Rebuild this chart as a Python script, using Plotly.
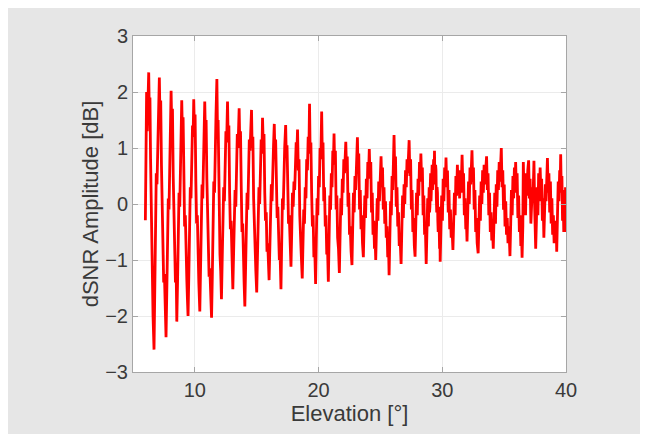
import plotly.graph_objects as go

# ---- data (elevation in degrees, dSNR in dB) ----
elev_a = [6.00, 6.05, 6.10, 6.15, 6.20, 6.27, 6.32, 6.37, 6.42, 6.47, 6.52, 6.57, 6.62, 6.70,
          6.76, 6.82, 6.88, 6.94, 7.00, 7.06, 7.13, 7.18, 7.24, 7.30, 7.36, 7.42, 7.48, 7.54, 7.60, 7.67,
          7.73, 7.79, 7.85, 7.91, 7.97, 8.03, 8.08, 8.13, 8.19, 8.25, 8.31, 8.37, 8.43, 8.49, 8.54,
          8.60, 8.66, 8.72, 8.78, 8.84, 8.89, 8.94, 8.99, 9.05, 9.11, 9.17, 9.23, 9.29, 9.35, 9.40, 9.45,
          9.51, 9.57, 9.63, 9.69, 9.75, 9.81, 9.86, 9.91, 9.96, 10.02, 10.08, 10.14, 10.20, 10.26, 10.32, 10.40,
          10.46, 10.52, 10.58, 10.64, 10.70, 10.75, 10.80, 10.85, 10.91, 10.97, 11.03, 11.09, 11.15, 11.21, 11.28, 11.35]
dsnr_a = [-0.29, 0.95, 2.00, 1.30, 1.95, 2.35, 1.60, 1.90, 0.80, 0.05, -1.00, -0.90, -2.00, -2.60,
          -1.50, -0.40, 0.55, 0.35, 1.10, 1.80, 2.26, 1.55, 1.85, 0.70, -0.20, -0.60, -1.40, -1.25, -2.10, -2.38,
          -1.60, -0.55, 0.10, -0.10, 0.90, 1.60, 2.02, 1.40, 1.70, 0.50, -0.30, -0.85, -1.40, -1.20, -2.10,
          -1.40, -0.50, 0.20, -0.05, 1.00, 1.55, 1.85, 1.30, 1.55, 0.60, -0.40, -0.20, -1.10, -1.35, -1.70, -2.00,
          -1.30, -0.45, 0.30, 0.10, 0.95, 1.40, 1.20, 1.87, 1.35, 1.60, 0.40, -0.35, -0.20, -1.10, -1.40, -1.92,
          -1.20, -0.30, 0.35, 0.10, 1.05, 1.45, 1.83, 1.25, 1.50, 0.45, -0.30, -0.55, -1.30, -1.15, -1.75, -2.03]

elev_b = [11.41, 11.47, 11.53, 11.59, 11.65, 11.71, 11.78, 11.83, 11.88, 11.93, 11.98, 12.03, 12.09, 12.15,
          12.21, 12.27, 12.33, 12.39, 12.45, 12.51, 12.57, 12.64, 12.69, 12.75, 12.81, 12.87, 12.93, 12.99, 13.07,
          13.13, 13.19, 13.25, 13.31, 13.37, 13.43, 13.49, 13.58, 13.63, 13.69, 13.75, 13.81, 13.87, 13.93, 13.98, 14.04,
          14.10, 14.16, 14.22, 14.28, 14.34, 14.40, 14.46, 14.52, 14.58, 14.63, 14.69, 14.75, 14.81, 14.87, 14.93, 15.00,
          15.06, 15.12, 15.18, 15.24, 15.30, 15.36, 15.42, 15.47, 15.53, 15.59, 15.65, 15.71, 15.77, 15.83, 15.89, 15.95, 16.00,
          16.06, 16.12, 16.18, 16.24, 16.30, 16.36, 16.42, 16.47, 16.53, 16.59, 16.65, 16.71, 16.77, 16.83, 16.89, 16.96]
dsnr_b = [-1.30, -0.35, 0.40, 0.20, 1.20, 1.60, 2.23, 1.30, 1.50, 0.20, -0.40, -0.90, -1.20, -1.70,
          -1.00, -0.25, 0.30, 0.05, 0.90, 1.30, 1.10, 1.83, 1.20, 1.40, 0.20, -0.45, -0.30, -1.10, -1.52,
          -0.90, -0.20, 0.25, -0.05, 0.80, 1.25, 1.00, 1.71, 1.10, 1.30, 0.30, -0.50, -0.35, -1.20, -1.40, -1.83,
          -1.10, -0.30, 0.20, -0.10, 0.70, 1.15, 0.95, 1.40, 1.68, 1.00, 1.20, 0.10, -0.50, -0.70, -1.20, -1.58,
          -0.95, -0.20, 0.30, 0.00, 0.75, 1.15, 0.90, 1.54, 1.05, 1.25, 0.20, -0.30, -0.15, -0.85, -0.70, -1.10, -1.36,
          -0.80, -0.15, 0.35, 0.05, 0.80, 1.05, 1.43, 0.90, 1.15, 0.25, -0.25, -0.05, -0.80, -1.00, -0.90, -1.52]

elev_c = [17.02, 17.08, 17.14, 17.20, 17.26, 17.34, 17.39, 17.45, 17.51, 17.57, 17.63, 17.70, 17.77,
          17.83, 17.89, 17.95, 18.01, 18.07, 18.13, 18.19, 18.25, 18.30, 18.36, 18.42, 18.48, 18.54, 18.60, 18.68,
          18.74, 18.80, 18.86, 18.92, 18.98, 19.04, 19.10, 19.16, 19.22, 19.27, 19.32, 19.38, 19.44, 19.50, 19.56, 19.62, 19.69, 19.76,
          19.82, 19.88, 19.94, 20.00, 20.06, 20.12, 20.18, 20.25, 20.30, 20.36, 20.42, 20.48, 20.54, 20.60, 20.66, 20.72, 20.79,
          20.85, 20.91, 20.97, 21.03, 21.09, 21.15, 21.20, 21.25, 21.30, 21.36, 21.42, 21.48, 21.54, 21.61, 21.68,
          21.74, 21.80, 21.86, 21.92, 21.98, 22.04, 22.10, 22.15, 22.20, 22.26, 22.32, 22.38, 22.44, 22.50, 22.56, 22.63, 22.70]
dsnr_c = [-0.70, 0.10, -0.10, 0.75, 1.00, 1.41, 0.85, 1.05, 0.10, -0.35, -0.20, -0.85, -1.12,
          -0.50, 0.20, -0.05, 0.40, 0.25, 0.90, 1.10, 0.95, 1.33, 0.60, 0.80, -0.20, -0.70, -0.90, -1.33,
          -0.70, -0.10, -0.35, 0.30, 0.10, 0.80, 0.60, 1.20, 1.00, 1.79, 0.90, 1.10, 0.20, -0.40, -0.20, -0.95, -0.80, -1.43,
          -0.60, 0.10, -0.20, 0.50, 0.30, 1.00, 0.80, 1.65, 0.90, 1.10, 0.05, 0.30, -0.40, -0.20, -0.90, -0.75, -1.39,
          -0.55, 0.15, -0.10, 0.55, 0.30, 0.95, 0.75, 1.26, 0.70, 0.95, -0.10, 0.15, -0.60, -0.80, -1.23,
          -0.50, 0.10, -0.20, 0.45, 0.20, 0.80, 0.55, 0.90, 1.11, 0.60, 0.85, -0.05, 0.20, -0.55, -0.40, -0.85, -1.09]

elev_d = [22.76, 22.82, 22.88, 22.94, 23.00, 23.06, 23.14, 23.19, 23.25, 23.31, 23.37, 23.43, 23.49, 23.55, 23.62,
          23.68, 23.74, 23.80, 23.86, 23.92, 23.98, 24.04, 24.10, 24.16, 24.22, 24.28, 24.34, 24.40, 24.46, 24.52, 24.57, 24.62,
          24.68, 24.74, 24.80, 24.86, 24.92, 24.98, 25.05, 25.11, 25.17, 25.23, 25.29, 25.35, 25.41, 25.47, 25.53, 25.59, 25.65, 25.70,
          25.76, 25.82, 25.88, 25.94, 26.00, 26.05, 26.10, 26.16, 26.22, 26.28, 26.34, 26.40, 26.46, 26.52, 26.58, 26.67,
          26.73, 26.79, 26.85, 26.91, 26.97, 27.03, 27.09, 27.15, 27.21, 27.27, 27.32, 27.38, 27.44, 27.50, 27.56, 27.62, 27.68, 27.74, 27.80,
          27.86, 27.92, 27.98, 28.04, 28.10, 28.16, 28.22, 28.27, 28.33, 28.39, 28.45, 28.51, 28.57, 28.63, 28.70]
dsnr_d = [-0.40, 0.20, -0.15, 0.50, 0.25, 0.85, 1.19, 0.60, 0.90, -0.10, 0.25, -0.45, -0.20, -0.70, -0.95,
          -0.35, 0.15, -0.25, 0.45, 0.10, 0.75, 0.50, 0.98, 0.45, 0.75, -0.15, 0.20, -0.55, -0.30, -0.80, -0.60, -1.00,
          -0.45, 0.10, -0.30, 0.40, 0.05, 0.70, 0.85, 0.30, 0.65, -0.10, 0.30, -0.35, 0.05, -0.60, -0.40, -0.95, -0.70, -1.27,
          -0.50, 0.05, -0.20, 0.50, 0.25, 0.85, 1.23, 0.55, 0.85, -0.05, 0.30, -0.40, -0.15, -0.75, -0.55, -1.07,
          -0.40, 0.15, -0.25, 0.35, 0.00, 0.60, 0.30, 0.80, 0.55, 0.95, 1.14, 0.50, 0.80, -0.10, 0.25, -0.50, -0.25, -0.75, -0.94,
          -0.35, 0.20, -0.20, 0.45, 0.15, 0.75, 0.45, 0.90, 0.40, 0.65, -0.20, 0.15, -0.55, -0.40, -1.07]

elev_e = [28.76, 28.79, 28.82, 28.85, 28.88, 28.91, 28.94, 28.97, 29.00, 29.03, 29.06, 29.09, 29.12, 29.15, 29.18, 29.21, 29.24, 29.27, 29.30, 29.34, 29.37,
          29.40, 29.43, 29.46, 29.49, 29.52, 29.55, 29.58, 29.61, 29.64, 29.67, 29.70, 29.73, 29.76, 29.78, 29.81, 29.83,
          29.89, 29.95, 30.01, 30.07, 30.13, 30.19, 30.25, 30.30, 30.36, 30.42, 30.48, 30.54, 30.60, 30.66, 30.72, 30.78, 30.86,
          30.92, 30.98, 31.04, 31.10, 31.16, 31.22, 31.28, 31.34, 31.40, 31.46, 31.52, 31.60, 31.66, 31.72, 31.78, 31.84, 31.90, 31.95, 32.00,
          32.06, 32.12, 32.18, 32.24, 32.30, 32.35, 32.40, 32.46, 32.52, 32.58, 32.64, 32.70, 32.76, 32.82, 32.90,
          32.96, 33.02, 33.08, 33.14, 33.20, 33.26, 33.32, 33.38, 33.44, 33.50, 33.58, 33.64, 33.70, 33.76, 33.82, 33.88, 33.94, 34.00, 34.06, 34.12]
dsnr_e = [-0.45, -0.10, 0.10, -0.25, -0.40, 0.05, 0.30, -0.15, -0.05, 0.35, 0.55, 0.05, 0.20, 0.50, 0.70, 0.25, 0.40, 0.65, 0.80, 0.40, 0.95,
          0.45, 0.35, 0.70, 0.60, 0.10, -0.15, 0.30, 0.20, -0.30, -0.50, -0.05, -0.20, -0.55, -0.80, -0.45, -1.03,
          -0.40, 0.15, -0.30, 0.45, 0.05, 0.65, 0.35, 0.83, 0.30, 0.60, -0.15, 0.25, -0.45, -0.10, -0.60, -0.40, -0.82,
          -0.30, 0.20, -0.20, 0.50, 0.15, 0.70, 0.30, 0.60, 0.10, 0.45, 0.20, 0.88, 0.35, 0.55, -0.20, 0.10, -0.45, -0.30, -0.67,
          -0.10, 0.40, 0.00, 0.65, 0.35, 0.80, 0.96, 0.40, 0.65, -0.10, 0.25, -0.50, -0.25, -0.70, -0.88,
          -0.35, 0.15, -0.30, 0.40, 0.00, 0.60, 0.20, 0.70, 0.35, 0.55, 0.85, 0.25, 0.55, -0.20, 0.20, -0.50, -0.15, -0.65, -0.45, -0.80]

elev_f = [34.18, 34.24, 34.30, 34.36, 34.42, 34.48, 34.54, 34.60, 34.66, 34.72, 34.77, 34.83, 34.89, 34.95, 35.01, 35.07, 35.13, 35.19, 35.25, 35.31, 35.37, 35.42, 35.47,
          35.53, 35.59, 35.65, 35.71, 35.77, 35.83, 35.88, 35.93, 35.99, 36.05, 36.11, 36.17, 36.23, 36.29, 36.35, 36.40, 36.45,
          36.51, 36.55, 36.61, 36.67, 36.73, 36.79, 36.85, 36.91, 36.98, 37.04, 37.10, 37.16, 37.22, 37.28, 37.34, 37.41, 37.46, 37.51, 37.55,
          37.61, 37.67, 37.73, 37.79, 37.85, 37.91, 37.97, 38.03, 38.09, 38.15, 38.21, 38.27, 38.33, 38.39, 38.45, 38.50, 38.56, 38.62, 38.68, 38.74,
          38.80, 38.86, 38.92, 38.98, 39.04, 39.10, 39.16, 39.21, 39.25,
          39.31, 39.37, 39.43, 39.49, 39.53, 39.57, 39.62, 39.67, 39.72, 39.77, 39.82, 39.87, 39.92, 39.96, 40.00]
dsnr_f = [-0.30, 0.20, -0.35, 0.35, -0.05, 0.60, 0.25, 0.75, 0.40, 0.65, 1.00, 0.30, 0.60, -0.10, 0.35, -0.40, 0.05, -0.55, -0.25, -0.70, -0.40, -0.60, -0.93,
          -0.35, 0.25, -0.20, 0.50, 0.10, 0.65, 0.30, 0.75, 0.20, 0.55, -0.25, 0.15, -0.50, -0.20, -0.75, -0.45, -0.96,
          -0.40, 0.75, 0.10, 0.45, -0.20, 0.55, 0.15, 0.60, 0.78, 0.10, 0.45, -0.35, -0.05, 0.30, 0.15, 0.77, 0.00, -0.35, -0.80,
          -0.30, 0.30, -0.20, 0.55, 0.05, 0.65, 0.20, 0.45, -0.30, 0.10, -0.60, -0.20, 0.35, 0.05, 0.60, 0.82, 0.20, 0.55, -0.15, 0.40,
          -0.35, 0.10, -0.55, -0.20, -0.70, -0.30, -0.60, -0.40, -0.85,
          -0.20, 0.40, 0.05, 0.60, 0.35, 0.89, 0.20, 0.50, -0.30, 0.15, -0.50, 0.25, -0.45, 0.30, -0.50]

x_ticks = [10, 20, 30, 40]
y_ticks = [-3, -2, -1, 0, 1, 2, 3]

elevation = elev_a + elev_b + elev_c + elev_d + elev_e + elev_f
dsnr = dsnr_a + dsnr_b + dsnr_c + dsnr_d + dsnr_e + dsnr_f

fig = go.Figure()
fig.add_trace(go.Scatter(x=elevation, y=dsnr, mode="lines",
                         line=dict(color="#ff0000", width=2.8), showlegend=False))

font_family = "Liberation Sans, Arial, sans-serif"
text_color = "#3a3a3a"
axis_common = dict(
    showgrid=True, gridcolor="#ebebeb", gridwidth=1,
    showline=True, linecolor="#a6a6a6", linewidth=1, mirror="ticks",
    ticks="inside", ticklen=5, tickcolor="#a6a6a6",
    zeroline=False,
    tickfont=dict(family=font_family, size=20, color=text_color),
)

fig.update_layout(
    width=648, height=434,
    paper_bgcolor="#e6e6e6", plot_bgcolor="#ffffff",
    margin=dict(l=125, r=90, t=28, b=70),
    font=dict(family=font_family, color=text_color),
    xaxis=dict(range=[5, 40], tickvals=x_ticks,
               title=dict(text="Elevation [°]", font=dict(size=22, family=font_family, color=text_color), standoff=3),
               **axis_common),
    yaxis=dict(range=[-3, 3], tickvals=y_ticks,
               title=dict(text="dSNR Amplitude [dB]", font=dict(size=22, family=font_family, color=text_color), standoff=0),
               **axis_common),
)

fig.write_html("out.html")
